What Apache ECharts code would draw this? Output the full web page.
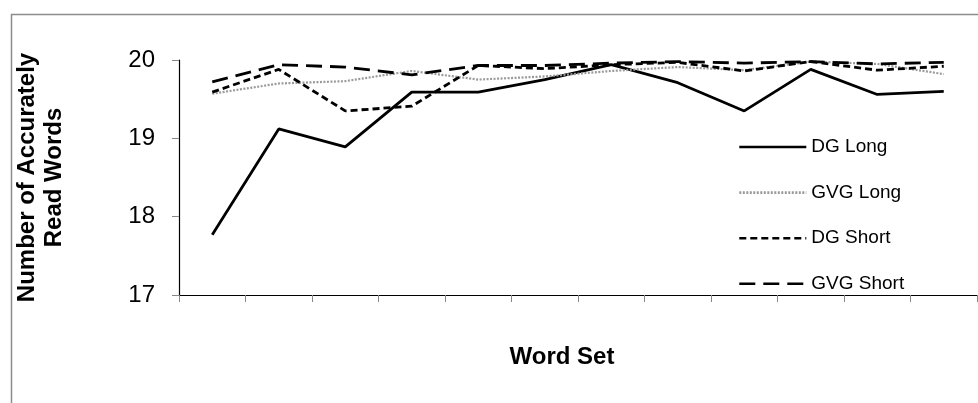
<!DOCTYPE html>
<html>
<head>
<meta charset="utf-8">
<script src="https://cdn.jsdelivr.net/npm/echarts@6/dist/echarts.min.js"></script>
<style>
html,body{margin:0;padding:0;background:#fff;}
#chart{width:978px;height:403px;}
</style>
</head>
<body>
<div id="chart"></div>
<script>
var categories = ['1','2','3','4','5','6','7','8','9','10','11','12'];
var dgLong   = [17.77, 19.12, 18.89, 19.59, 19.59, 19.75, 19.94, 19.71, 19.35, 19.88, 19.56, 19.60];
var gvgLong  = [19.57, 19.70, 19.73, 19.86, 19.75, 19.79, 19.86, 19.91, 19.87, 19.98, 19.95, 19.82];
var dgShort  = [19.59, 19.88, 19.35, 19.41, 19.93, 19.89, 19.94, 19.97, 19.86, 19.98, 19.87, 19.92];
var gvgShort = [19.72, 19.94, 19.91, 19.81, 19.93, 19.93, 19.96, 19.98, 19.96, 19.98, 19.95, 19.97];
var yTicks = [17, 18, 19, 20];

var font = 'Liberation Sans, Arial, sans-serif';
var chart = echarts.init(document.getElementById('chart'));
function mk(name, data, color, type, width) {
  return {
    name: name, type: 'line', data: data, symbol: 'none', smooth: false,
    lineStyle: { color: color, type: type, width: width, cap: 'butt' },
    itemStyle: { color: color },
    emphasis: { disabled: true },
    animation: false
  };
}
chart.setOption({
  animation: false,
  backgroundColor: '#fff',
  graphic: [{
    type: 'rect', left: 9, top: 12, silent: true,
    shape: { width: 1100, height: 600 },
    style: { fill: 'none', stroke: '#8c8c8c', lineWidth: 1.5 }
  }],
  grid: { left: 179, right: 1, top: 60, bottom: 108, containLabel: false },
  legend: {
    orient: 'vertical', left: 733, top: 132,
    itemWidth: 67, itemHeight: 20, itemGap: 25.6,
    itemStyle: { color: 'rgba(0,0,0,0)', borderWidth: 0, opacity: 0 },
    lineStyle: { width: 2.6 },
    textStyle: { fontFamily: font, fontSize: 19, color: '#000', lineHeight: 20 },
    data: ['DG Long', 'GVG Long', 'DG Short', 'GVG Short']
  },
  xAxis: {
    type: 'category', data: categories, boundaryGap: true,
    name: 'Word Set', nameLocation: 'middle', nameGap: 50,
    nameTextStyle: { fontFamily: font, fontSize: 24, fontWeight: 'bold', color: '#000', padding: [0, 32, 0, 0] },
    axisLine: { lineStyle: { color: '#000', width: 1.2 } },
    axisTick: { show: true, inside: false, length: 7, lineStyle: { color: '#888' } },
    axisLabel: { show: false },
    splitLine: { show: false }
  },
  yAxis: {
    type: 'value', min: yTicks[0], max: yTicks[yTicks.length - 1], interval: 1,
    name: 'Number of Accurately\nRead Words', nameLocation: 'middle', nameGap: 111, nameRotate: 90,
    nameTextStyle: { fontFamily: font, fontSize: 24, fontWeight: 'bold', color: '#000', lineHeight: 27 },
    axisLine: { show: true, lineStyle: { color: '#000', width: 1.2 } },
    axisTick: { show: true, length: 7, lineStyle: { color: '#888' } },
    axisLabel: { fontFamily: font, fontSize: 24, color: '#000', margin: 24 },
    splitLine: { show: false }
  },
  series: [
    mk('DG Long', dgLong, '#000', 'solid', 2.8),
    mk('GVG Long', gvgLong, '#9a9a9a', [2, 1.5], 2.2),
    mk('DG Short', dgShort, '#000', [7, 4], 2.8),
    mk('GVG Short', gvgShort, '#000', [16, 8], 2.8)
  ]
});
</script>
</body>
</html>
